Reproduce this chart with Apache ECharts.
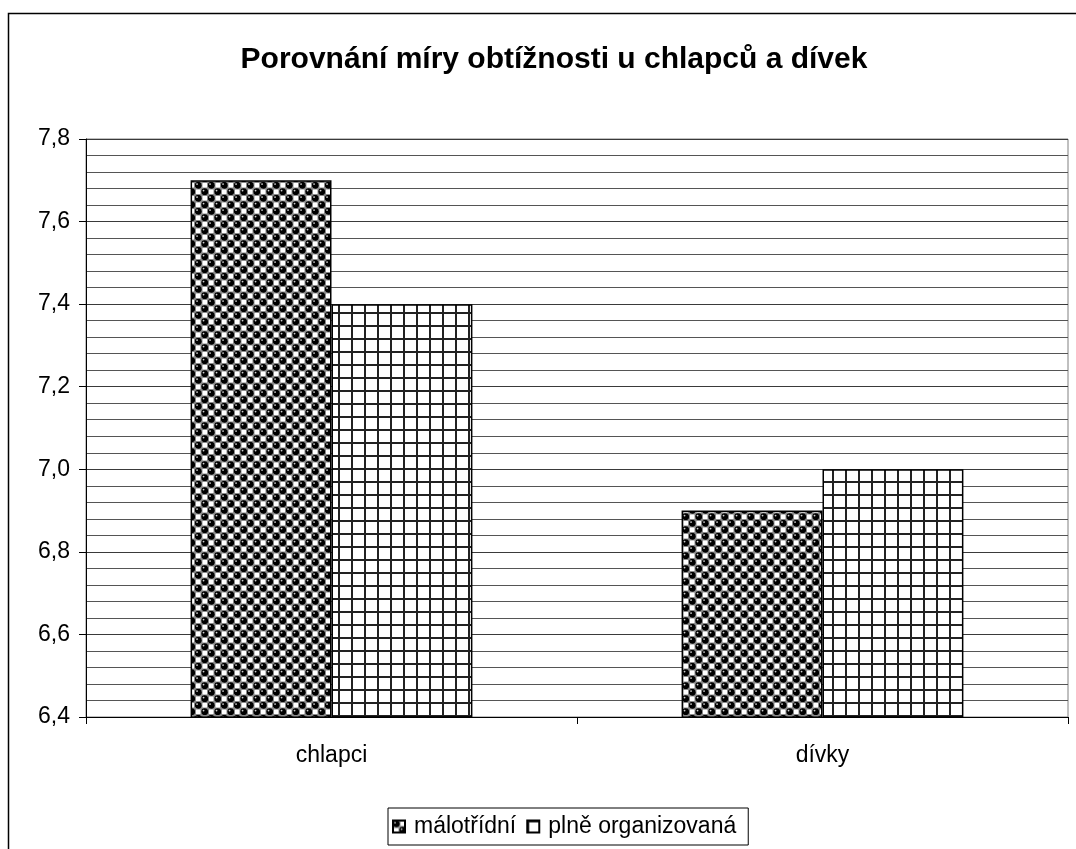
<!DOCTYPE html>
<html>
<head>
<meta charset="utf-8">
<script src="https://cdn.jsdelivr.net/npm/echarts@6/dist/echarts.min.js"></script>
<style>
  html, body { margin: 0; padding: 0; background: #fff; }
  #chart { width: 1076px; height: 849px; }
</style>
</head>
<body>
<div id="chart"></div>
<script>
// Data
const categories = ['chlapci', 'dívky'];
const seriesNames = ['málotřídní', 'plně organizovaná'];
const maloTridni = [7.7, 6.9];
const plneOrganizovana = [7.4, 7.0];
const yTicks = [6.4, 6.6, 6.8, 7.0, 7.2, 7.4, 7.6, 7.8];

const FONT = '"Liberation Sans", Arial, sans-serif';

// Sphere / checker fill tile
function spherePattern() {
  const s = 13, h = s / 2;
  const c = document.createElement('canvas');
  c.width = s; c.height = s;
  const g = c.getContext('2d');
  g.fillStyle = '#8a8a8a';
  g.fillRect(0, 0, s, s);
  // white squares
  g.fillStyle = '#ffffff';
  g.fillRect(h + 1, 1, h - 2, h - 2);
  g.fillRect(1, h + 1, h - 2, h - 2);
  // dark balls
  [[h / 2, h / 2], [h + h / 2, h + h / 2]].forEach(([x, y]) => {
    g.fillStyle = '#000';
    g.beginPath(); g.arc(x, y, 3.4, 0, Math.PI * 2); g.fill();
    g.fillStyle = '#d0d0d0';
    g.beginPath(); g.arc(x - 1.2, y - 1.2, 0.9, 0, Math.PI * 2); g.fill();
  });
  return c;
}

// Square grid fill tile
function gridPattern(s) {
  const c = document.createElement('canvas');
  c.width = s; c.height = s;
  const g = c.getContext('2d');
  g.fillStyle = '#ffffff';
  g.fillRect(0, 0, s, s);
  g.fillStyle = '#222';
  g.fillRect(0, 0, 2, s);
  g.fillRect(0, 0, s, 2);
  return c;
}

const fillA = { image: spherePattern(), repeat: 'repeat' };
const fillB = { image: gridPattern(13), repeat: 'repeat' };

const chart = echarts.init(document.getElementById('chart'), null, { renderer: 'canvas' });

const option = {
  backgroundColor: '#fff',
  animation: false,
  title: {
    text: 'Porovnání míry obtížnosti u chlapců a dívek',
    left: 549,
    top: 40,
    textAlign: 'center',
    textStyle: { fontFamily: FONT, fontWeight: 'bold', fontSize: 30, color: '#000' }
  },
  legend: {
    data: seriesNames,
    left: 388,
    top: 808,
    orient: 'horizontal',
    padding: [7, 12, 7, 4],
    itemGap: 10,
    itemWidth: 12,
    itemHeight: 12,
    borderColor: '#000',
    borderWidth: 1,
    icon: 'rect',
    textStyle: { fontFamily: FONT, fontSize: 23, color: '#000', padding: [0, 0, 0, 4] }
  },
  grid: {
    left: 86,
    right: 8,
    top: 139,
    bottom: 132,
    show: true,
    borderColor: '#808080',
    borderWidth: 1,
    backgroundColor: 'transparent'
  },
  xAxis: {
    type: 'category',
    data: categories,
    axisLine: { lineStyle: { color: '#000', width: 1 } },
    axisTick: { show: true, length: 7, lineStyle: { color: '#000' } },
    axisLabel: { fontFamily: FONT, fontSize: 23, color: '#000', margin: 27 }
  },
  yAxis: {
    type: 'value',
    min: yTicks[0],
    max: yTicks[yTicks.length - 1],
    interval: 0.2,
    axisLine: { show: true, lineStyle: { color: '#000', width: 1 } },
    axisTick: { show: true, length: 7, lineStyle: { color: '#000' } },
    axisLabel: {
      fontFamily: FONT, fontSize: 23, color: '#000', margin: 16,
      formatter: v => v.toFixed(1).replace('.', ',')
    },
    splitLine: { show: true, lineStyle: { color: '#3a3a3a', width: 1 } },
    minorTick: { show: false, splitNumber: 5 },
    minorSplitLine: { show: true, lineStyle: { color: '#555', width: 1 } }
  },
  series: [
    {
      name: seriesNames[0],
      type: 'bar',
      data: maloTridni,
      barGap: '0%',
      barCategoryGap: '42.6%',
      itemStyle: { color: fillA, borderColor: '#000', borderWidth: 1.5 }
    },
    {
      name: seriesNames[1],
      type: 'bar',
      data: plneOrganizovana,
      barGap: '0%',
      barCategoryGap: '42.6%',
      itemStyle: { color: fillB, borderColor: '#000', borderWidth: 1.5 }
    }
  ],
  graphic: [
    {
      type: 'rect',
      z: -1,
      silent: true,
      shape: { x: 8.5, y: 13.5, width: 1200, height: 1000 },
      style: { fill: 'none', stroke: '#000', lineWidth: 1.5 }
    }
  ]
};

chart.setOption(option);
</script>
</body>
</html>
